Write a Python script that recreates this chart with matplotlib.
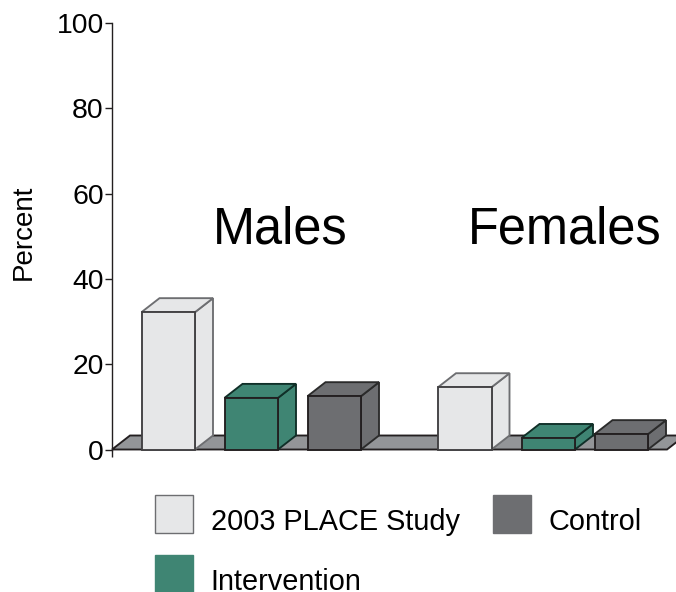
import numpy as np
from matplotlib import pyplot as plt
from matplotlib.patches import Rectangle
from matplotlib.transforms import Affine2D

plt.rcParams['font.family'] = ['Liberation Sans', 'DejaVu Sans']

series = ['2003 PLACE Study', 'Intervention', 'Control']
colors = ['#E6E7E8', '#3F8573', '#6D6E71']
groups = ['Males', 'Females']
place = [32.2, 14.6]
intervention = [12.1, 2.7]
control = [12.5, 3.6]
yticks = [0, 20, 40, 60, 80, 100]

W, H = 676, 592
AX_L, AX_R, AX_T, AX_B = 112, 676, 23, 449.5
px = Affine2D().scale(1, -1).translate(0, H)  # picture pixels, y down

# bar left edges, measured from the axis in pixels
lefts = {
    'place': [29.5, 326],
    'intervention': [112.5, 409.5],
    'control': [195.5, 482.5],
}
BAR_W = 53.5
DX = 18
DY = 14 / ((AX_B - AX_T) / 100.0)
LW = 1.35


def bar3d(ax, x, h, color, back='#231F20', edge='#231F20'):
    # side and top first, then the front face
    ax.fill([x + BAR_W, x + BAR_W + DX, x + BAR_W + DX, x + BAR_W],
            [0, DY, h + DY, h], facecolor=color, edgecolor=back, lw=LW, zorder=3, clip_on=False)
    ax.fill([x, x + DX, x + BAR_W + DX, x + BAR_W],
            [h, h + DY, h + DY, h], facecolor=color, edgecolor=back, lw=LW, zorder=3, clip_on=False)
    ax.bar(x, h, width=BAR_W, align='edge', color=color, edgecolor=edge, lw=LW, zorder=4, clip_on=False)


fig = plt.figure(figsize=(W / 100, H / 100), dpi=100)
ax = fig.add_axes([AX_L / W, 1 - AX_B / H, (AX_R - AX_L) / W, (AX_B - AX_T) / H])
ax.set_xlim(0, AX_R - AX_L)
ax.set_ylim(0, 100)

# floor
ax.fill([0, DX, 573, 555], [0, DY, DY, 0], facecolor='#939598', edgecolor='#231F20', lw=LW,
        zorder=2, clip_on=False)

for i in range(len(groups)):
    bar3d(ax, lefts['place'][i], place[i], colors[0], back='#6D6E71', edge='#414042')
    bar3d(ax, lefts['intervention'][i], intervention[i], colors[1], back='#102F28')
    bar3d(ax, lefts['control'][i], control[i], colors[2], back='#2B2B2B')

for s in ['top', 'right', 'bottom']:
    ax.spines[s].set_visible(False)
ax.spines['left'].set_color('#231F20')
ax.spines['left'].set_linewidth(1.0)
ax.set_yticks(yticks)
ax.set_xticks([0])
ax.set_xticklabels([''])
ax.tick_params(axis='both', length=5.2, width=1.0, color='#231F20')
ax.tick_params(axis='y', labelsize=20.4, pad=0.8)
ax.set_ylabel('Percent', fontsize=20, labelpad=0)
ax.yaxis.set_label_coords(-0.134, 0.51)
ax.patch.set_alpha(0)

# group names
for name, x in zip(groups, [213, 468]):
    fig.text(x, 243, name, transform=px, fontsize=36.4, ha='left', va='baseline', color='black')

# legend, laid out by hand because the gaps differ per column
legend_swatch = [(155, 495), (155, 555), (493, 495)]
legend_text = [(211, 529.5), (210.5, 589.5), (549, 529.5)]
for i, name in enumerate(series):
    sx, sy = legend_swatch[i]
    fig.add_artist(Rectangle((sx, sy), 38, 38, transform=px, facecolor=colors[i],
                             edgecolor='#6D6E71' if i == 0 else colors[i], lw=1.0))
    tx, ty = legend_text[i]
    fig.text(tx, ty, name, transform=px, fontsize=20.8, ha='left', va='baseline', color='black')

fig.savefig('out.png', dpi=100)
